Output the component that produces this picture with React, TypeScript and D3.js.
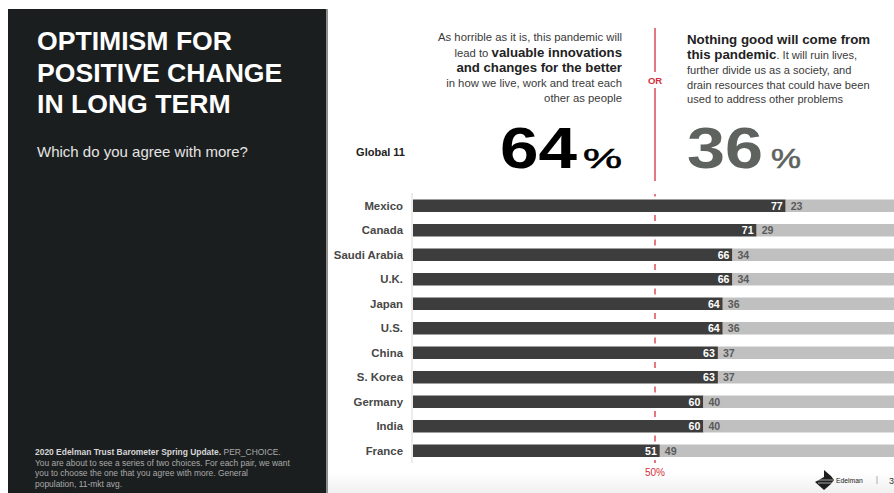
import React from "react";
import * as d3 from "d3";

const countries = ["Mexico", "Canada", "Saudi Arabia", "U.K.", "Japan", "U.S.", "China", "S. Korea", "Germany", "India", "France"];
const agree = [77, 71, 66, 66, 64, 64, 63, 63, 60, 60, 51];
const disagree = [23, 29, 34, 34, 36, 36, 37, 37, 40, 40, 49];
const globalAgree = 64;
const globalDisagree = 36;
const midline = 50;

const W = 894;
const H = 493;
const FONT = "'Liberation Sans', Arial, Helvetica, sans-serif";
const RED = "#d3303d";

export default function App() {
  const x = d3.scaleLinear().domain([0, 100]).range([413, 897]);
  const y = d3.scaleBand<string>().domain(countries).range([193.5, 463]).paddingInner(0.49).paddingOuter(0.245);
  const bh = y.bandwidth();
  const step = y.step();
  const x50 = x(midline);
  const firstGap = (y(countries[0]) as number) + bh + (step - bh) / 2;
  const dashLen = 6;
  const lineTop = 194;
  const lineBot = 463;
  const dashOffset = -((firstGap - dashLen / 2 - lineTop) % step);

  return (
    <svg width={W} height={H} style={{ position: "absolute", left: 0, top: 0 }} fontFamily={FONT}>
      <defs>
        <linearGradient id="bot" x1="0" y1="0" x2="0" y2="1">
          <stop offset="0" stopColor="#ffffff" />
          <stop offset="1" stopColor="#f0f0f0" />
        </linearGradient>
      </defs>
      <rect x={0} y={0} width={W} height={H} fill="#fff" />
      <rect x={326} y={472} width={W - 326} height={H - 472} fill="url(#bot)" />
      {/* left panel */}
      <rect x={8} y={9} width={318} height={H - 9} fill="#1b1e1f" />
      <rect x={326} y={9} width={2} height={H - 9} fill="#8e8e8e" />
      <g fill="#ffffff" fontWeight="bold" fontSize={26.6}>
        <text x={37} y={50}>OPTIMISM FOR</text>
        <text x={37} y={81.5}>POSITIVE CHANGE</text>
        <text x={37} y={112.5}>IN LONG TERM</text>
      </g>
      <text x={37} y={157} fill="#e4e4e4" fontSize={15}>Which do you agree with more?</text>
      <g fontSize={8.45} fill="#a9a9a9">
        <text x={35} y={455}>
          <tspan fontWeight="bold" fill="#d6d6d6">2020 Edelman Trust Barometer Spring Update.</tspan> PER_CHOICE.
        </text>
        <text x={35} y={465.5}>You are about to see a series of two choices. For each pair, we want</text>
        <text x={35} y={476}>you to choose the one that you agree with more. General</text>
        <text x={35} y={486.5}>population, 11-mkt avg.</text>
      </g>

      {/* header statements */}
      <g fontSize={11.3} fill="#3a3a3a" textAnchor="end">
        <text x={622} y={41}>As horrible as it is, this pandemic will</text>
        <text x={622} y={56.5}>
          lead to <tspan fontWeight="bold" fontSize={13.2} fill="#222">valuable innovations</tspan>
        </text>
        <text x={622} y={72} fontWeight="bold" fontSize={13.2} fill="#222">and changes for the better</text>
        <text x={622} y={87}>in how we live, work and treat each</text>
        <text x={622} y={101.5}>other as people</text>
      </g>
      <g fontSize={11.1} fill="#3a3a3a">
        <text x={687} y={44} fontWeight="bold" fontSize={13.3} fill="#222">Nothing good will come from</text>
        <text x={687} y={59}>
          <tspan fontWeight="bold" fontSize={13.3} fill="#222">this pandemic</tspan>. It will ruin lives,
        </text>
        <text x={687} y={74}>further divide us as a society, and</text>
        <text x={687} y={88.5}>drain resources that could have been</text>
        <text x={687} y={103}>used to address other problems</text>
      </g>
      <line x1={x50} x2={x50} y1={28} y2={72} stroke={RED} strokeWidth={1.3} />
      <line x1={x50} x2={x50} y1={88} y2={181} stroke={RED} strokeWidth={1.3} />
      <text x={x50} y={84} textAnchor="middle" fill={RED} fontSize={9.5} fontWeight="bold">OR</text>

      {/* big numbers */}
      <text x={500} y={168} fontSize={58} fontWeight="bold" fill="#000" textLength={77} lengthAdjust="spacingAndGlyphs">{globalAgree}</text>
      <text x={583} y={168} fontSize={28} fill="#000" textLength={39} lengthAdjust="spacingAndGlyphs" stroke="#000" strokeWidth={0.6}>%</text>
      <text x={687} y={168} fontSize={58} fontWeight="bold" fill="#5e635f" textLength={76} lengthAdjust="spacingAndGlyphs">{globalDisagree}</text>
      <text x={771} y={168} fontSize={28} fill="#5e635f" textLength={30} lengthAdjust="spacingAndGlyphs" stroke="#5e635f" strokeWidth={0.6}>%</text>

      <text x={405} y={156} textAnchor="end" fontSize={11} fontWeight="bold" fill="#222">Global 11</text>

      {/* axis line */}
      <line x1={412} x2={412} y1={193} y2={463} stroke="#e6e6e6" strokeWidth={1.5} />
      {/* 50% dashed line */}
      <line x1={x50} x2={x50} y1={lineTop} y2={lineBot} stroke={RED} strokeWidth={1.3}
        strokeDasharray={`${dashLen} ${step - dashLen}`} strokeDashoffset={dashOffset} />
      <text x={x50} y={476} textAnchor="middle" fill={RED} fontSize={10}>{midline}%</text>

      {/* bars */}
      {countries.map((c, i) => {
        const y0 = y(c) as number;
        const cy = y0 + bh / 2;
        return (
          <g key={c}>
            <text x={403} y={cy + 4} textAnchor="end" fontSize={11.4} fontWeight="bold" fill="#474747">{c}</text>
            <rect x={x(0)} y={y0} width={x(agree[i]) - x(0)} height={bh} fill="#3d3d3d" />
            <rect x={x(agree[i])} y={y0} width={x(100) - x(agree[i])} height={bh} fill="#c0c0c0" />
            <text x={x(agree[i]) - 3} y={cy + 3.8} textAnchor="end" fontSize={10.6} fontWeight="bold" fill="#ffffff">{agree[i]}</text>
            <text x={x(agree[i]) + 5} y={cy + 3.8} fontSize={10.6} fontWeight="bold" fill="#5a5a5a">{disagree[i]}</text>
          </g>
        );
      })}

      {/* footer logo */}
      <g fill="#1e1e1e">
        <polygon points="815,482 824,477 824,470 831,476 834,480 831,484 824,490" />
        <line x1={816} x2={833} y1={480} y2={480} stroke="#fff" strokeWidth={0.6} />
        <line x1={818} x2={832} y1={483} y2={483} stroke="#fff" strokeWidth={0.6} />
      </g>
      <text x={836} y={482.5} fontSize={6.8} fill="#222">Edelman</text>
      <line x1={877} x2={877} y1={476} y2={484} stroke="#999" strokeWidth={0.8} />
      <text x={889} y={483.5} fontSize={9} fill="#333">3</text>
    </svg>
  );
}
